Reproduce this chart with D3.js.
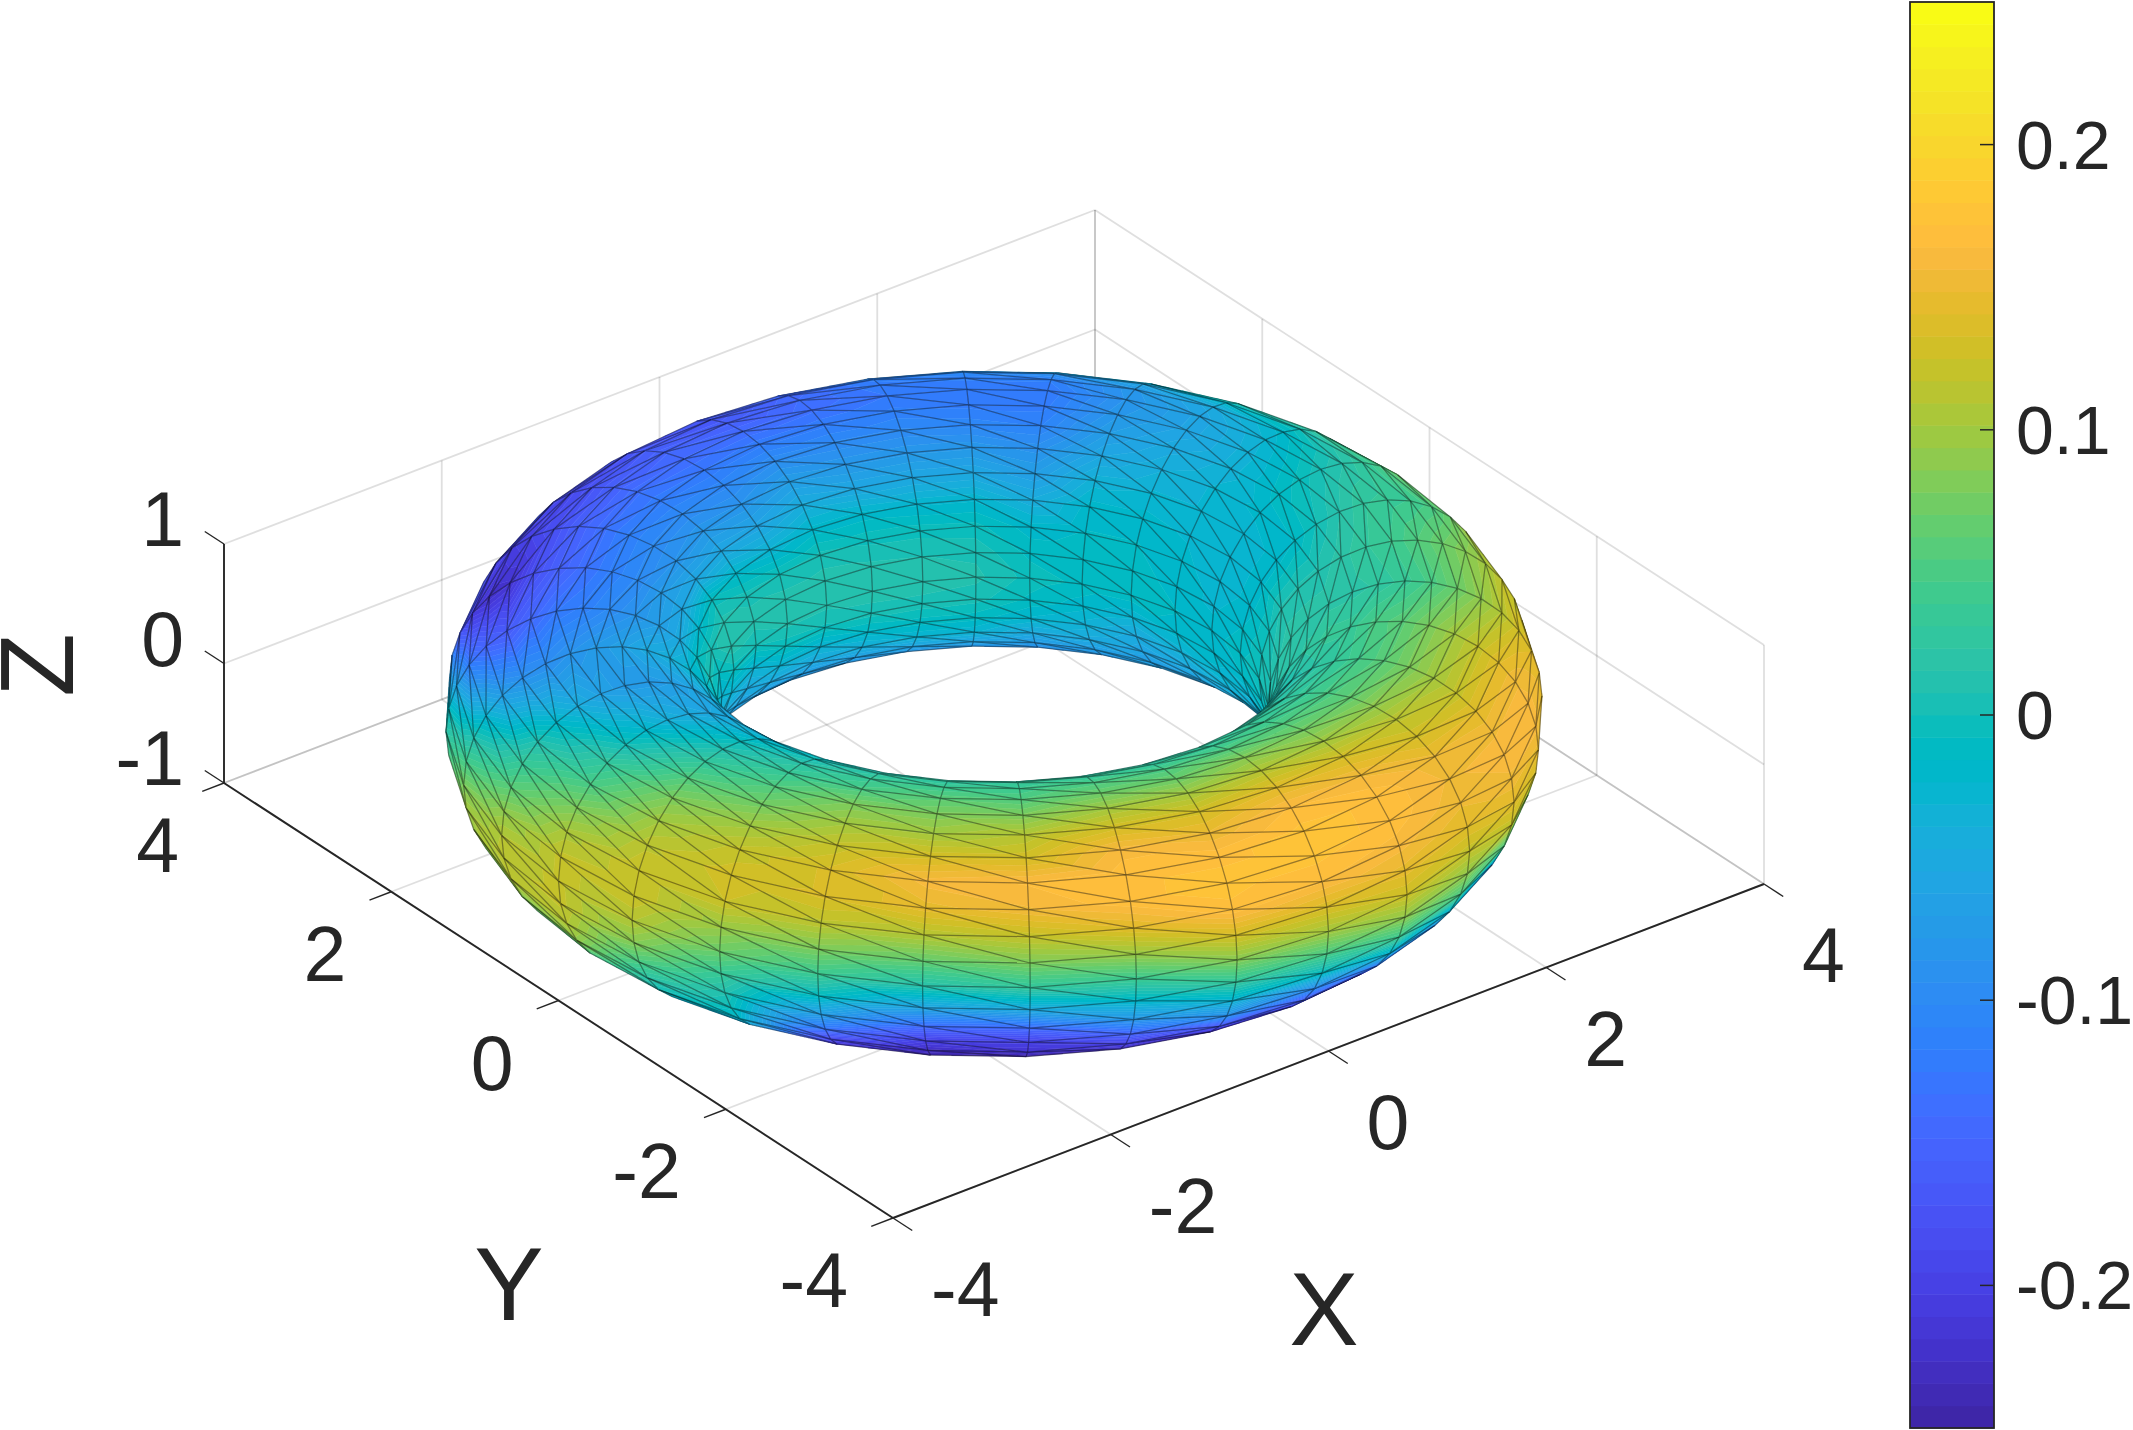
<!DOCTYPE html>
<html lang="en">
<head>
    <meta charset="UTF-8">
    <title>Torus surface</title>
    <script src="https://d3js.org/d3.v7.min.js"></script>
    <style>
        body { margin: 0; background: #fff; }
        svg { display: block; font-family: "Liberation Sans", Arial, sans-serif; }
        text { fill: #262626; }
    </style>
</head>
<body>
    <svg id="canvas" width="2133" height="1430"></svg>

    <script>
        // Axis ticks
        const xTicks = [-4, -2, 0, 2, 4];
        const yTicks = [-4, -2, 0, 2, 4];
        const zTicks = [-1, 0, 1];
        const colorTicks = [-0.2, -0.1, 0, 0.1, 0.2];
        const colorRange = [-0.25, 0.25];

        // Torus mesh: major circle and tube angles in degrees, radii in data units
        const thetaDeg = [0, 11.25, 22.5, 33.75, 45, 56.25, 67.5, 78.75, 90, 101.25, 112.5, 123.75, 135, 146.25, 157.5, 168.75,
            180, 191.25, 202.5, 213.75, 225, 236.25, 247.5, 258.75, 270, 281.25, 292.5, 303.75, 315, 326.25, 337.5, 348.75];
        const phiDeg = thetaDeg;
        const majorRadius = 3, tubeRadius = 1;

        // Surface value read at each mesh vertex: one row per theta, one column per phi
        const surfaceValues = [
            [.10,.11,.10,.085,.07,.05,.03,.015,.005,-.005,-.012,-.02,-.03,-.03,-.03,-.025,-.02,-.02,-.025,-.035,-.05,-.06,-.07,-.08,-.08,-.08,-.06,-.03,0,.04,.07,.09],
            [.07,.08,.07,.06,.04,.03,0,-.02,-.03,-.035,-.035,-.03,-.03,-.025,-.02,-.02,-.015,-.02,-.035,-.05,-.06,-.065,-.07,-.08,-.08,-.08,-.07,-.04,-.02,.01,.04,.06],
            [.05,.05,.04,.03,.02,.01,-.02,-.05,-.06,-.06,-.05,-.04,-.03,-.02,-.015,-.01,-.01,-.03,-.05,-.06,-.07,-.07,-.08,-.08,-.09,-.09,-.08,-.06,-.03,-.01,.02,.04],
            [.02,.02,.01,0,-.01,-.03,-.06,-.08,-.085,-.08,-.07,-.055,-.035,-.02,-.015,-.01,-.01,-.02,-.035,-.05,-.07,-.08,-.09,-.09,-.09,-.09,-.09,-.07,-.05,-.03,-.01,.01],
            [0,0,-.01,-.02,-.03,-.05,-.09,-.115,-.125,-.12,-.11,-.09,-.07,-.045,-.02,-.01,-.003,-.01,-.025,-.05,-.075,-.09,-.1,-.1,-.1,-.1,-.09,-.08,-.06,-.04,-.02,-.01],
            [-.02,-.03,-.04,-.05,-.06,-.08,-.1,-.115,-.125,-.12,-.105,-.08,-.055,-.025,-.005,.006,.01,.003,-.012,-.03,-.06,-.085,-.1,-.1,-.1,-.1,-.1,-.09,-.07,-.05,-.03,-.02],
            [-.04,-.05,-.06,-.07,-.08,-.1,-.115,-.12,-.125,-.115,-.10,-.08,-.055,-.025,-.003,.008,.012,.005,-.012,-.03,-.06,-.08,-.1,-.1,-.1,-.1,-.09,-.08,-.06,-.05,-.04,-.03],
            [-.03,-.05,-.07,-.09,-.11,-.14,-.145,-.14,-.135,-.12,-.10,-.08,-.055,-.02,-.002,.01,.012,.004,-.018,-.04,-.065,-.08,-.09,-.09,-.09,-.08,-.08,-.06,-.05,-.04,-.03,-.02],
            [-.02,-.05,-.08,-.11,-.14,-.165,-.17,-.16,-.14,-.12,-.095,-.07,-.045,-.02,.003,.012,.01,-.002,-.03,-.05,-.07,-.08,-.09,-.08,-.08,-.07,-.06,-.05,-.04,-.03,-.02,-.01],
            [-.02,-.06,-.1,-.14,-.17,-.18,-.165,-.15,-.14,-.125,-.105,-.085,-.06,-.03,0,.012,.01,-.005,-.03,-.05,-.07,-.08,-.09,-.08,-.07,-.06,-.05,-.04,-.03,-.02,-.01,-.01],
            [-.03,-.08,-.12,-.16,-.185,-.19,-.175,-.155,-.135,-.12,-.10,-.08,-.055,-.02,.005,.012,0,-.03,-.05,-.06,-.07,-.08,-.08,-.07,-.06,-.05,-.04,-.03,-.02,-.01,0,0],
            [-.08,-.12,-.17,-.2,-.205,-.195,-.18,-.155,-.135,-.115,-.10,-.085,-.055,-.005,.012,.014,-.005,-.03,-.05,-.06,-.07,-.07,-.07,-.06,-.05,-.04,-.03,-.02,-.01,0,0,-.04],
            [-.06,-.11,-.17,-.21,-.225,-.22,-.18,-.155,-.135,-.115,-.10,-.075,-.055,-.02,.005,-.01,-.03,-.04,-.05,-.06,-.06,-.06,-.06,-.05,-.04,-.03,-.02,-.01,0,.01,.01,-.02],
            [.02,-.01,-.06,-.12,-.15,-.165,-.145,-.125,-.115,-.10,-.085,-.07,-.05,-.01,.005,-.01,-.03,-.03,-.04,-.05,-.05,-.05,-.05,-.04,-.03,-.02,-.01,0,.01,.03,.05,.05],
            [.08,.045,.01,-.03,-.07,-.09,-.095,-.085,-.075,-.065,-.05,-.04,-.025,-.02,-.02,-.03,-.04,-.04,-.05,-.05,-.05,-.05,-.05,-.04,-.03,-.02,-.01,0,.03,.07,.1,.1],
            [.11,.09,.06,.035,.01,-.02,-.045,-.065,-.075,-.075,-.07,-.06,-.045,-.04,-.04,-.04,-.05,-.05,-.05,-.05,-.05,-.05,-.05,-.05,-.04,-.03,-.01,.03,.06,.085,.11,.115],
            [.12,.12,.105,.08,.05,.03,0,-.02,-.04,-.05,-.055,-.05,-.05,-.05,-.05,-.05,-.05,-.05,-.05,-.05,-.05,-.05,-.06,-.06,-.06,-.05,-.02,.03,.05,.09,.11,.12],
            [.11,.125,.125,.115,.10,.08,.055,.03,.01,-.005,-.02,-.03,-.04,-.04,-.04,-.05,-.05,-.05,-.05,-.06,-.06,-.06,-.07,-.08,-.08,-.08,-.06,-.03,0,.02,.05,.085],
            [.07,.095,.125,.13,.12,.10,.075,.055,.035,.02,0,-.01,-.01,-.015,-.02,-.03,-.04,-.05,-.06,-.07,-.08,-.09,-.1,-.11,-.12,-.13,-.1,-.05,-.02,-.005,.01,.035],
            [.04,.08,.115,.135,.135,.12,.10,.08,.05,.035,.02,.01,0,-.01,-.02,-.03,-.04,-.05,-.06,-.07,-.08,-.09,-.1,-.12,-.15,-.18,-.2,-.22,-.19,-.13,-.07,-.01],
            [.015,.065,.11,.145,.16,.13,.10,.08,.06,.04,.025,.02,.01,0,-.01,-.02,-.03,-.04,-.05,-.06,-.07,-.08,-.1,-.12,-.15,-.18,-.21,-.24,-.23,-.2,-.14,-.06],
            [.03,.08,.12,.155,.165,.13,.11,.08,.055,.04,.03,.02,.01,0,-.01,-.02,-.03,-.04,-.05,-.06,-.07,-.08,-.1,-.12,-.15,-.18,-.21,-.25,-.22,-.2,-.14,-.05],
            [.04,.095,.14,.17,.17,.16,.13,.10,.07,.05,.03,.02,.01,0,-.01,-.02,-.03,-.04,-.05,-.06,-.07,-.08,-.1,-.12,-.15,-.18,-.21,-.23,-.2,-.15,-.08,-.02],
            [.085,.13,.17,.175,.17,.15,.13,.10,.07,.05,.03,.02,.01,0,-.01,-.02,-.03,-.04,-.05,-.06,-.07,-.08,-.1,-.12,-.15,-.18,-.21,-.23,-.17,-.09,-.03,.03],
            [.10,.135,.165,.175,.175,.165,.14,.11,.085,.055,.035,.025,.015,.01,0,-.01,-.02,-.03,-.04,-.05,-.06,-.07,-.09,-.11,-.14,-.17,-.19,-.2,-.16,-.1,-.01,.05],
            [.125,.145,.16,.17,.17,.155,.13,.10,.075,.055,.04,.03,.02,.015,.01,0,-.01,-.02,-.03,-.04,-.05,-.06,-.08,-.1,-.13,-.16,-.19,-.22,-.13,-.03,.04,.09],
            [.12,.14,.15,.155,.15,.13,.115,.09,.065,.05,.035,.025,.015,.01,.005,0,-.01,-.02,-.03,-.04,-.05,-.06,-.07,-.09,-.12,-.15,-.17,-.14,-.1,-.04,.05,.09],
            [.14,.155,.16,.155,.14,.12,.10,.08,.06,.045,.03,.02,.01,.005,0,-.005,-.01,-.02,-.03,-.04,-.05,-.06,-.07,-.08,-.1,-.12,-.14,-.15,-.15,-.08,.05,.12],
            [.145,.16,.16,.155,.14,.12,.10,.08,.06,.05,.035,.035,.025,.02,.015,.01,0,-.005,-.01,-.02,-.03,-.04,-.05,-.06,-.08,-.1,-.1,-.1,-.02,.05,.08,.13],
            [.14,.145,.14,.13,.11,.09,.07,.05,.035,.025,.02,.02,.02,.02,.015,.01,0,-.005,-.01,-.02,-.03,-.04,-.05,-.06,-.07,-.07,-.06,-.04,0,.05,.1,.13],
            [.13,.13,.12,.12,.10,.085,.07,.055,.04,.03,.02,.01,.01,.01,0,0,0,-.01,-.02,-.03,-.04,-.05,-.06,-.06,-.06,-.06,-.05,-.02,.02,.06,.09,.12],
            [.12,.12,.11,.10,.07,.05,.04,.035,.03,.015,0,-.015,-.02,-.02,-.02,-.015,-.01,-.015,-.03,-.04,-.05,-.06,-.07,-.07,-.07,-.07,-.05,-.02,.02,.05,.08,.11]
        ];

        // Surface colormap, lowest level first
        const parula = ["#3e26a8","#402ab4","#422ebf","#4332cb","#4537d5","#463cde","#4741e5","#4747eb","#484df0","#4852f4","#4758f8","#465efa","#4563fd","#4269fe","#3e6fff","#3875fe",
            "#327cfc","#2f81fa","#2d87f7","#2d8cf3","#2b91ef","#2796eb","#259be7","#23a0e5","#20a5e3","#1ca9df","#18addb","#12b1d6","#08b5d0","#01b7ca","#02bac3","#0bbdbc",
            "#19bfb5","#24c1ae","#2cc3a7","#31c69f","#37c897","#3fca8e","#4acb84","#57cc7a","#63cd6f","#71cc64","#80cc59","#8fca4e","#9dc942","#abc739","#b9c431","#c5c22a",
            "#d1bf27","#dcbd29","#e6bb2d","#efba36","#f8ba3d","#febe3c","#fec338","#fec934","#fccf30","#f9d62d","#f7dc2a","#f5e327","#f5e924","#f6ef20","#f7f51b","#f9fb15"];

        const svg = d3.select("#canvas");

        // Orthographic projection: each data axis adds its own screen offset
        const xToPx = d3.scaleLinear().domain([-4, 4]).range([893, 1764]);
        const xToPy = d3.scaleLinear().domain([-4, 4]).range([1218, 884]);
        const yToPx = d3.scaleLinear().domain([-4, 4]).range([0, -669]);
        const yToPy = d3.scaleLinear().domain([-4, 4]).range([0, -435]);
        const zToPy = d3.scaleLinear().domain([-1, 1]).range([0, -239]);
        function project(x, y, z) {
            return [xToPx(x) + yToPx(y), xToPy(x) + yToPy(y) + zToPy(z)];
        }

        const viewDir = [-0.530, -0.690, 0.499];   // towards the viewer, larger depth is nearer
        const rad = d3.scaleLinear().domain([0, 180]).range([0, Math.PI]);
        const levels = d3.scaleLinear().domain([0, parula.length]).range(colorRange);

        // ---- Grid, behind everything ----
        const gridLines = [];
        xTicks.forEach(x => {
            gridLines.push([[x, -4, -1], [x, 4, -1]]);
            gridLines.push([[x, 4, -1], [x, 4, 1]]);
        });
        yTicks.forEach(y => {
            gridLines.push([[-4, y, -1], [4, y, -1]]);
            gridLines.push([[4, y, -1], [4, y, 1]]);
        });
        zTicks.forEach(z => {
            gridLines.push([[-4, 4, z], [4, 4, z]]);
            gridLines.push([[4, -4, z], [4, 4, z]]);
        });

        function drawLines(cls, lines, color, width, opacity) {
            svg.append("g").attr("class", cls)
                .selectAll("line").data(lines).join("line")
                .attr("x1", d => project(...d[0])[0])
                .attr("y1", d => project(...d[0])[1])
                .attr("x2", d => project(...d[1])[0])
                .attr("y2", d => project(...d[1])[1])
                .attr("stroke", color)
                .attr("stroke-width", width)
                .attr("stroke-opacity", opacity);
        }
        drawLines("grid", gridLines, "#262626", 1.8, 0.15);

        // ---- Torus mesh ----
        const verts = thetaDeg.map((t, i) => phiDeg.map((p, j) => {
            const rho = majorRadius + tubeRadius * Math.cos(rad(p));
            const pos = [rho * Math.cos(rad(t)), rho * Math.sin(rad(t)), tubeRadius * Math.sin(rad(p))];
            return { pos, px: project(...pos), c: surfaceValues[i][j], id: i + "_" + j };
        }));

        const n = thetaDeg.length, m = phiDeg.length;
        const triangles = [];
        d3.range(n).forEach(i => d3.range(m).forEach(j => {
            const a = verts[i][j], b = verts[(i + 1) % n][j];
            const c = verts[i][(j + 1) % m], d = verts[(i + 1) % n][(j + 1) % m];
            triangles.push([a, b, c], [b, d, c]);
        }));

        function depthOf(tri) {
            return d3.sum(tri, v => v.pos[0] * viewDir[0] + v.pos[1] * viewDir[1] + v.pos[2] * viewDir[2]) / 3;
        }
        function facesViewer(tri) {
            const [p, q, r] = tri.map(v => v.px);
            return (q[0] - p[0]) * (r[1] - p[1]) - (q[1] - p[1]) * (r[0] - p[0]) < 0;
        }

        // Keep the part of a triangle whose value lies in [lo, hi), so the shading bands follow the colormap
        function clipBand(tri, lo, hi) {
            const cut = (poly, keep, level) => {
                const out = [];
                poly.forEach((v, k) => {
                    const w = poly[(k + 1) % poly.length];
                    if (keep(v.c)) out.push(v);
                    if (keep(v.c) !== keep(w.c)) {
                        const f = (level - v.c) / (w.c - v.c);
                        out.push({ c: level, px: [v.px[0] + f * (w.px[0] - v.px[0]), v.px[1] + f * (w.px[1] - v.px[1])] });
                    }
                });
                return out;
            };
            let poly = cut(tri, c => c >= lo, lo);
            if (poly.length) poly = cut(poly, c => c < hi, hi);
            return poly;
        }

        const items = [];
        const edges = new Map();
        triangles.filter(facesViewer).forEach(tri => {
            const depth = depthOf(tri);
            const cs = tri.map(v => v.c);
            parula.forEach((color, k) => {
                const lo = k === 0 ? -1 : levels(k);
                const hi = k === parula.length - 1 ? 1 : levels(k + 1);
                if (d3.max(cs) < lo || d3.min(cs) >= hi) return;
                const poly = clipBand(tri, lo, hi);
                if (poly.length > 2) items.push({ depth, color, points: poly.map(v => v.px) });
            });
            tri.forEach((v, k) => {
                const w = tri[(k + 1) % 3];
                const key = v.id < w.id ? v.id + "|" + w.id : w.id + "|" + v.id;
                const old = edges.get(key);
                if (!old || old.depth < depth) edges.set(key, { depth, points: [v.px, w.px] });
            });
        });
        edges.forEach(e => items.push({ depth: e.depth + 1e-4, color: null, points: e.points }));
        items.sort((a, b) => d3.ascending(a.depth, b.depth));

        const pathOf = d3.line();
        svg.append("g").attr("class", "surface")
            .selectAll("path").data(items).join("path")
            .attr("d", d => pathOf(d.points) + (d.color ? "Z" : ""))
            .attr("fill", d => d.color || "none")
            .attr("stroke", d => d.color || "#000")
            .attr("stroke-width", d => d.color ? 0.5 : 1.25)
            .attr("stroke-opacity", d => d.color ? 1 : 0.4);

        // ---- Axes ----
        const axisLines = [
            [[-4, -4, -1], [4, -4, -1]],
            [[-4, -4, -1], [-4, 4, -1]],
            [[-4, 4, -1], [-4, 4, 1]]
        ];
        drawLines("axes", axisLines, "#262626", 1.9, 1);

        const tickLines = [];
        xTicks.forEach(x => tickLines.push([[x, -4, -1], [x, -4.23, -1]]));
        yTicks.forEach(y => tickLines.push([[-4, y, -1], [-4.2, y, -1]]));
        zTicks.forEach(z => tickLines.push([[-4, 4, z], [-4, 4.23, z]]));
        drawLines("ticks", tickLines, "#262626", 1.4, 1);

        const tickFont = 77, labelFont = 104;
        function label(text, x, y, anchor, size) {
            return svg.append("text").attr("x", x).attr("y", y)
                .attr("text-anchor", anchor).attr("font-size", size).text(text);
        }
        xTicks.forEach(x => {
            const [px, py] = project(x, -4, -1);
            label(x, px + 38, py + 98, "start", tickFont);
        });
        yTicks.forEach(y => {
            const [px, py] = project(-4, y, -1);
            label(y, px - 45, py + 89, "end", tickFont);
        });
        zTicks.forEach(z => {
            const [px, py] = project(-4, 4, z);
            label(z, px - 40, py + 2, "end", tickFont);
        });
        label("X", 1324, 1345, "middle", labelFont);
        label("Y", 509, 1320, "middle", labelFont);
        svg.append("text").attr("font-size", labelFont).attr("text-anchor", "middle")
            .attr("transform", "translate(73,665) rotate(-90)").text("Z");

        // ---- Colorbar ----
        const barLeft = 1910, barRight = 1994;
        const barY = d3.scaleLinear().domain(colorRange).range([1428, 2]);
        const bar = svg.append("g").attr("class", "colorbar");
        bar.selectAll("rect").data(parula).join("rect")
            .attr("x", barLeft).attr("width", barRight - barLeft)
            .attr("y", (d, k) => barY(levels(k + 1)))
            .attr("height", (d, k) => barY(levels(k)) - barY(levels(k + 1)) + 0.5)
            .attr("fill", d => d);
        bar.append("rect")
            .attr("x", barLeft).attr("y", barY(colorRange[1]))
            .attr("width", barRight - barLeft).attr("height", barY(colorRange[0]) - barY(colorRange[1]))
            .attr("fill", "none").attr("stroke", "#262626").attr("stroke-width", 1.8);
        bar.selectAll("line").data(colorTicks).join("line")
            .attr("x1", barRight - 14).attr("x2", barRight)
            .attr("y1", d => barY(d)).attr("y2", d => barY(d))
            .attr("stroke", "#262626").attr("stroke-width", 1.5);
        bar.selectAll("text").data(colorTicks).join("text")
            .attr("x", 2016).attr("y", d => barY(d) + 24)
            .attr("font-size", 68)
            .text(d => d);
    </script>
</body>
</html>
